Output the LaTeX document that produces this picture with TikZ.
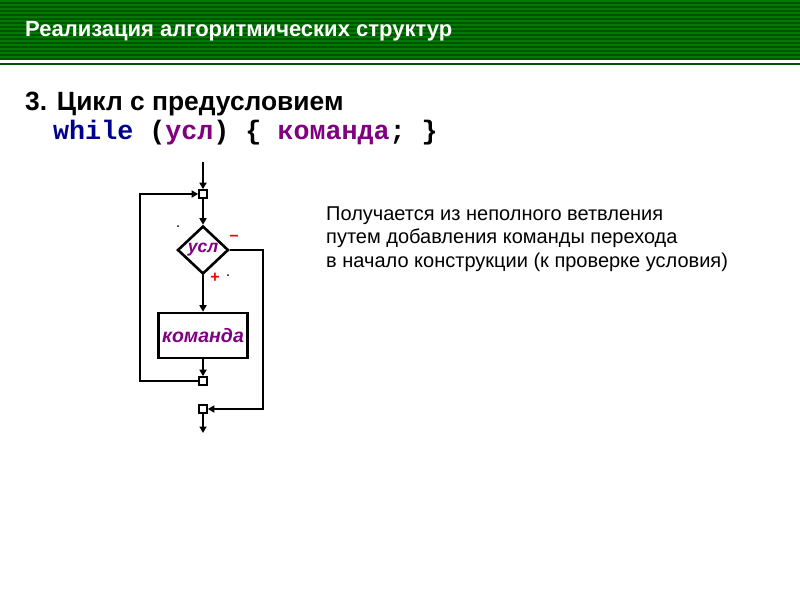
\documentclass[tikz,border=0pt]{standalone}
\usepackage{fontspec}
\setmainfont{Liberation Sans}
\newfontfamily\codefont{Liberation Mono}
\usetikzlibrary{shapes.geometric,arrows.meta}
\definecolor{hdrgreen}{RGB}{0,122,0}
\definecolor{hdrdark}{RGB}{0,86,0}
\definecolor{kwblue}{RGB}{0,0,140}
\definecolor{varpurple}{RGB}{128,0,128}
\newcommand{\pxsize}[1]{\fontsize{#1}{#1}\selectfont}

\begin{document}
\begin{tikzpicture}[x=1pt,y=-1pt,
    line/.style={line width=2.6pt},
    flow/.style={line,-{Triangle[length=6.5pt,width=7pt]}},
    junc/.style={draw,line width=2.2pt,fill=white,minimum size=7.5pt,inner sep=0pt},
    cond/.style={diamond,draw,line width=2.6pt,minimum width=51pt,minimum height=48pt,
      inner sep=0pt,font=\pxsize{17.5}\bfseries\itshape,text=varpurple},
    cmdbox/.style={draw,line width=2.6pt,minimum width=89pt,minimum height=45pt,
      inner sep=0pt,font=\pxsize{19.5}\bfseries\itshape,text=varpurple},
    sign/.style={text=red,font=\pxsize{16}\bfseries,inner sep=0pt},
    txt/.style={anchor=base west,inner sep=0pt}]

    \fill[white] (0,0) rectangle (800,600);
    \useasboundingbox (0,0) rectangle (800,600);

    % header
    \fill[hdrgreen] (0,0) rectangle (800,60);
    \foreach \y in {2,6,...,58}
      \fill[hdrdark] (0,\y) rectangle (800,\y+1.5);
    \fill[hdrdark] (0,62.5) rectangle (800,65);
    \node[anchor=west,inner sep=0pt,text=white,font=\pxsize{22}\bfseries] (title) at (25,31)
      {Реализация алгоритмических структур};

    \node[txt,font=\pxsize{26.4}\bfseries] (head) at (25,110) {3. Цикл с предусловием};
    \node[txt,font=\pxsize{26.7}\codefont\bfseries] (code) at (53,139)
      {\textcolor{kwblue}{while} (\textcolor{varpurple}{усл}) \{ \textcolor{varpurple}{команда}; \}};

    \node[txt,font=\pxsize{20}] (l1) at (326,220) {Получается из неполного ветвления};
    \node[txt,font=\pxsize{20}] (l2) at (326,243.5) {путем добавления команды перехода};
    \node[txt,font=\pxsize{20}] (l3) at (326,267) {в начало конструкции (к проверке условия)};

    % flowchart
    \coordinate (start) at (203,162);
    \node[junc] (j1) at (203,194) {};
    \node[cond] (cond) at (203,250) {усл};
    \node[cmdbox] (cmd) at (203,335.5) {команда};
    \node[junc] (j2) at (203,381) {};
    \node[junc] (j3) at (203,409) {};
    \coordinate (stop) at (203,433);
    \coordinate (lb) at (140,381);
    \coordinate (lt) at (140,194);
    \coordinate (rt) at (263,250);
    \coordinate (rb) at (263,409);

    \node[sign] (minus) at (234,238) {−};
    \node[sign] (plus) at (215,278) {+};
    \fill (178,226) circle (1);
    \fill (228,275) circle (1);

    \draw[flow] (start) -- (j1);
    \draw[flow] (j1) -- (cond);
    \draw[flow] (cond) -- (cmd);
    \draw[flow] (cmd) -- (j2);
    \draw[flow] (j2) -- (lb) -- (lt) -- (j1);
    \draw[flow] (cond) -- (rt) -- (rb) -- (j3);
    \draw[flow] (j3) -- (stop);
\end{tikzpicture}
\end{document}
